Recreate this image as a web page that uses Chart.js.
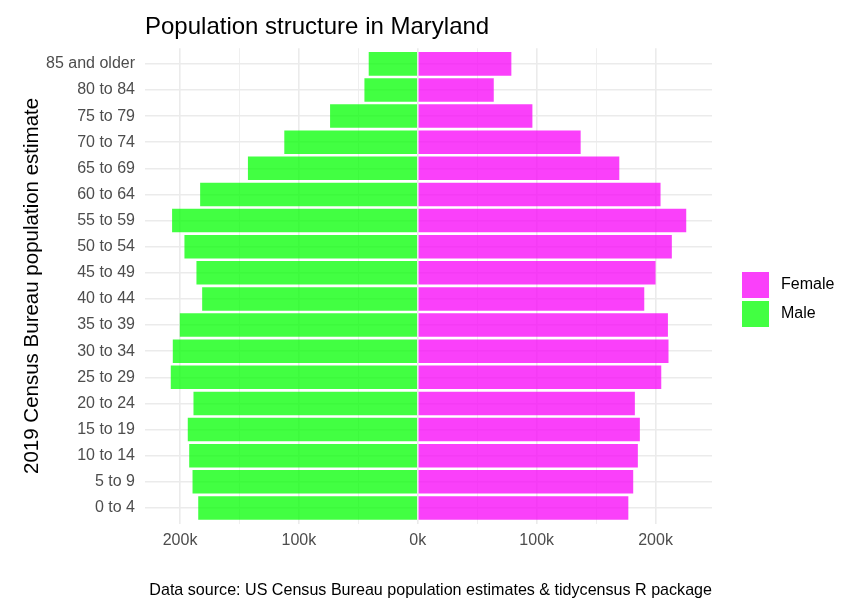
<!DOCTYPE html>
<html><head><meta charset="utf-8">
<script src="https://cdn.jsdelivr.net/npm/chart.js@4.4.1/dist/chart.umd.min.js"></script>
<style>html,body{margin:0;padding:0;background:#fff}#wrap{width:842px;height:611px}</style>
</head><body><div id="wrap"><canvas id="c" width="842" height="611"></canvas></div>
<script>
const ageGroups = ["0 to 4","5 to 9","10 to 14","15 to 19","20 to 24","25 to 29","30 to 34","35 to 39","40 to 44","45 to 49","50 to 54","55 to 59","60 to 64","65 to 69","70 to 74","75 to 79","80 to 84","85 and older"];
const maleValues = [184700,189500,192300,193500,188700,207800,206100,200200,181400,186200,196300,206700,183100,142900,112300,73800,44900,41300];
const femaleValues = [177100,181200,185100,186800,182600,204800,210900,210400,190500,200000,213700,225800,204200,169500,137000,96400,63900,78700];
const xTickValues = [-200000,-150000,-100000,-50000,0,50000,100000,150000,200000];
const xMajorValues = [-200000,-100000,0,100000,200000];
const titleText = "Population structure in Maryland";
const yTitleText = "2019 Census Bureau population estimate";
const captionText = "Data source: US Census Bureau population estimates & tidycensus R package";

const FONT = "'Liberation Sans', Arial, sans-serif";
const GRID = '#EBEBEB';

const legendPlugin = {
  id: 'ggLegend',
  afterDraw(chart) {
    const ctx = chart.ctx;
    const ds = chart.data.datasets.slice().reverse();
    ctx.save();
    ds.forEach((d, i) => {
      const y = 272 + i * 29;
      ctx.fillStyle = d.backgroundColor;
      ctx.fillRect(742, y, 27, 26);
      ctx.fillStyle = '#000';
      ctx.font = '16px ' + FONT;
      ctx.textBaseline = 'middle';
      ctx.textAlign = 'left';
      ctx.fillText(d.label, 781, y + 13);
    });
    ctx.restore();
  }
};

new Chart(document.getElementById('c'), {
  type: 'bar',
  data: {
    datasets: [
      { label: 'Male', data: maleValues.map((v, i) => ({ x: -v, y: i })), backgroundColor: 'rgba(0,255,0,0.74)', borderWidth: 0, barPercentage: 0.9, categoryPercentage: 1.0 },
      { label: 'Female', data: femaleValues.map((v, i) => ({ x: v, y: i })), backgroundColor: 'rgba(248,0,248,0.75)', borderWidth: 0, barPercentage: 0.9, categoryPercentage: 1.0 }
    ]
  },
  options: {
    indexAxis: 'y',
    responsive: false,
    animation: false,
    devicePixelRatio: 1,
    layout: { padding: { left: 0, right: 130, top: 0, bottom: 0 } },
    scales: {
      x: {
        type: 'linear', stacked: true, min: -229480, max: 247480,
        afterBuildTicks: (axis) => { axis.ticks = xTickValues.map(v => ({ value: v })); },
        afterFit: (scale) => { scale.height = 35; },
        ticks: {
          autoSkip: false, maxRotation: 0, padding: 7,
          color: '#4D4D4D', font: { family: FONT, size: 16 },
          callback: (v) => xMajorValues.includes(v) ? Math.abs(v / 1000) + 'k' : ''
        },
        grid: {
          drawTicks: false,
          color: GRID,
          lineWidth: (c) => (c.tick && xMajorValues.includes(c.tick.value)) ? 1.6 : 0.8
        },
        border: { display: false }
      },
      y: {
        type: 'linear', stacked: true, min: -0.6, max: ageGroups.length - 0.4,
        offset: false,
        afterBuildTicks: (axis) => { axis.ticks = ageGroups.map((_, i) => ({ value: i })); },
        afterFit: (scale) => { scale.width = 145; },
        ticks: {
          autoSkip: false, padding: 10,
          color: '#4D4D4D', font: { family: FONT, size: 16 },
          callback: (v) => ageGroups[v] ?? ''
        },
        grid: { drawTicks: false, offset: false, color: GRID, lineWidth: 1.6 },
        border: { display: false },
        title: {
          display: true, text: yTitleText, color: '#000',
          font: { family: FONT, size: 20.5 }, padding: { top: 20.1, bottom: 0 }
        }
      }
    },
    plugins: {
      legend: { display: false },
      tooltip: { enabled: false },
      title: {
        display: true, text: titleText, align: 'start', fullSize: false, color: '#000',
        font: { family: FONT, size: 24, weight: 'normal' }, padding: { top: 12.8, bottom: 6.6 }
      },
      subtitle: {
        display: true, text: captionText, position: 'bottom', align: 'end', fullSize: false, color: '#000',
        font: { family: FONT, size: 16.1, weight: 'normal' }, padding: { top: 22.7, bottom: 10.4 }
      }
    }
  },
  plugins: [legendPlugin]
});
</script>
</body></html>
